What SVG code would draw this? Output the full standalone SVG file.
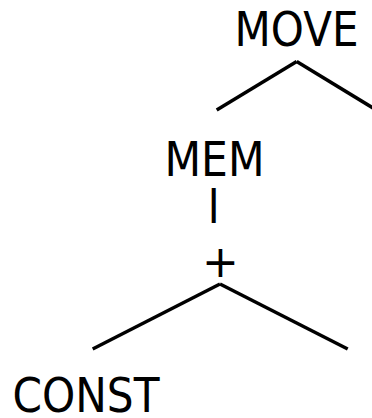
<svg xmlns="http://www.w3.org/2000/svg" width="372" height="418" viewBox="0 0 372 418">
<style>
text{font-family:"DejaVu Sans","Verdana",sans-serif;font-size:48px;fill:#000}
.e{stroke:#000;stroke-width:3.5;fill:none;stroke-linecap:butt}
</style>
<rect width="372" height="418" fill="#fff"/>
<g id="connectors">
<line class="e" x1="296.7" y1="61.5" x2="216.7" y2="110"/>
<line class="e" x1="296.7" y1="61.5" x2="378" y2="111"/>
<line class="e" x1="220" y1="284" x2="92.7" y2="349"/>
<line class="e" x1="220" y1="284" x2="347.7" y2="349"/>
</g>
<g id="move"><text x="234.5" y="46" textLength="124" lengthAdjust="spacingAndGlyphs">MOVE</text></g>
<g id="mem"><text x="164.5" y="176" textLength="100" lengthAdjust="spacingAndGlyphs">MEM</text></g>
<g id="i"><text x="213.7" y="223" text-anchor="middle" transform="translate(213.7 0) scale(0.84 1) translate(-213.7 0)">I</text></g>
<g id="plus"><text x="220.5" y="277" text-anchor="middle" font-size="44" style="font-size:44px">+</text></g>
<g id="const"><text x="12.5" y="412" textLength="147" lengthAdjust="spacingAndGlyphs">CONST</text></g>
</svg>
